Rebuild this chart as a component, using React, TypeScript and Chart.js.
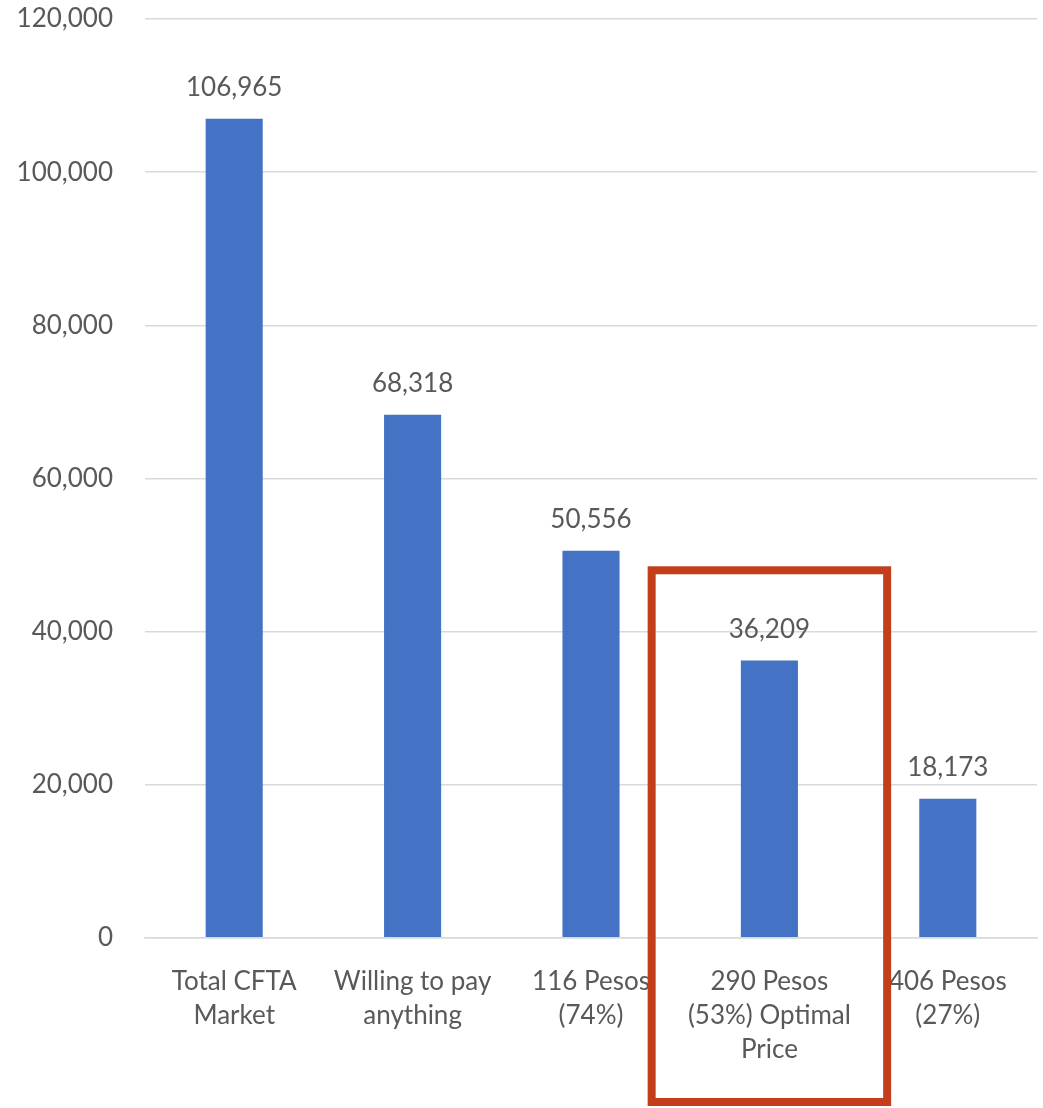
import React, { useEffect, useRef } from "react";
import { Chart, registerables } from "chart.js";

Chart.register(...registerables);

const categories: string[][] = [
  ["Total CFTA", "Market"],
  ["Willing to pay", "anything"],
  ["116 Pesos", "(74%)"],
  ["290 Pesos", "(53%) Optimal", "Price"],
  ["406 Pesos", "(27%)"],
];
const values: number[] = [106965, 68318, 50556, 36209, 18173];
const highlightIndex = 3;
const highlightTopValue = 48000;

const TEXT = "#595959";
const FONT = "Lato";
const FS = 26;

const dataLabels = {
  id: "dataLabels",
  afterDatasetsDraw(chart: any) {
    const ctx = chart.ctx;
    const meta = chart.getDatasetMeta(0);
    ctx.save();
    ctx.fillStyle = TEXT;
    ctx.font = `${FS}px ${FONT}`;
    ctx.textAlign = "center";
    ctx.textBaseline = "middle";
    meta.data.forEach((bar: any, i: number) => {
      ctx.fillText(values[i].toLocaleString("en-US"), bar.x, bar.y - 31);
    });
    ctx.restore();
  },
};

const highlightBox = {
  id: "highlightBox",
  afterDraw(chart: any) {
    const ctx = chart.ctx;
    const x = chart.scales.x;
    const y = chart.scales.y;
    const cx = x.getPixelForValue(highlightIndex);
    const catW = (x.right - x.left) / categories.length;
    const half = catW * 0.66;
    const top = y.getPixelForValue(highlightTopValue);
    const bottom = chart.height - 6;
    ctx.save();
    ctx.strokeStyle = "#C43E1C";
    ctx.lineWidth = 8;
    ctx.strokeRect(cx - half, top, half * 2, bottom - top);
    ctx.restore();
  },
};

export default function App() {
  const ref = useRef<HTMLCanvasElement | null>(null);
  useEffect(() => {
    if (!ref.current) return;
    const chart = new Chart(ref.current, {
      type: "bar",
      data: {
        labels: categories,
        datasets: [
          {
            data: values,
            backgroundColor: "#4472C4",
            categoryPercentage: 1,
            barPercentage: 0.32,
          },
        ],
      },
      options: {
        animation: false,
        responsive: false,
        maintainAspectRatio: false,
        layout: { padding: { top: 19, right: 6, bottom: 14, left: 0 } },
        plugins: { legend: { display: false }, tooltip: { enabled: false } },
        scales: {
          x: {
            grid: { display: false, drawTicks: false },
            border: { display: true, color: "#D9D9D9", width: 1.5 },
            ticks: {
              color: TEXT,
              font: { family: FONT, size: FS, lineHeight: 1.31 },
              padding: 27,
              maxRotation: 0,
              autoSkip: false,
            },
          },
          y: {
            min: 0,
            max: 120000,
            afterFit(scale: any) {
              scale.width = 145;
            },
            grid: {
              color: "#D9D9D9",
              lineWidth: 1.5,
              drawTicks: true,
              tickLength: 32,
              tickColor: "rgba(0,0,0,0)",
            },
            border: { display: false },
            ticks: {
              stepSize: 20000,
              color: TEXT,
              font: { family: FONT, size: FS },
              padding: 0,
              callback: (v: any) => Number(v).toLocaleString("en-US"),
            },
          },
        },
      },
      plugins: [dataLabels, highlightBox],
    });
    return () => chart.destroy();
  }, []);
  return (
    <div style={{ position: "absolute", left: 0, top: 0, width: 1043, height: 1108, background: "#fff" }}>
      <canvas ref={ref} width={1043} height={1108} />
    </div>
  );
}
